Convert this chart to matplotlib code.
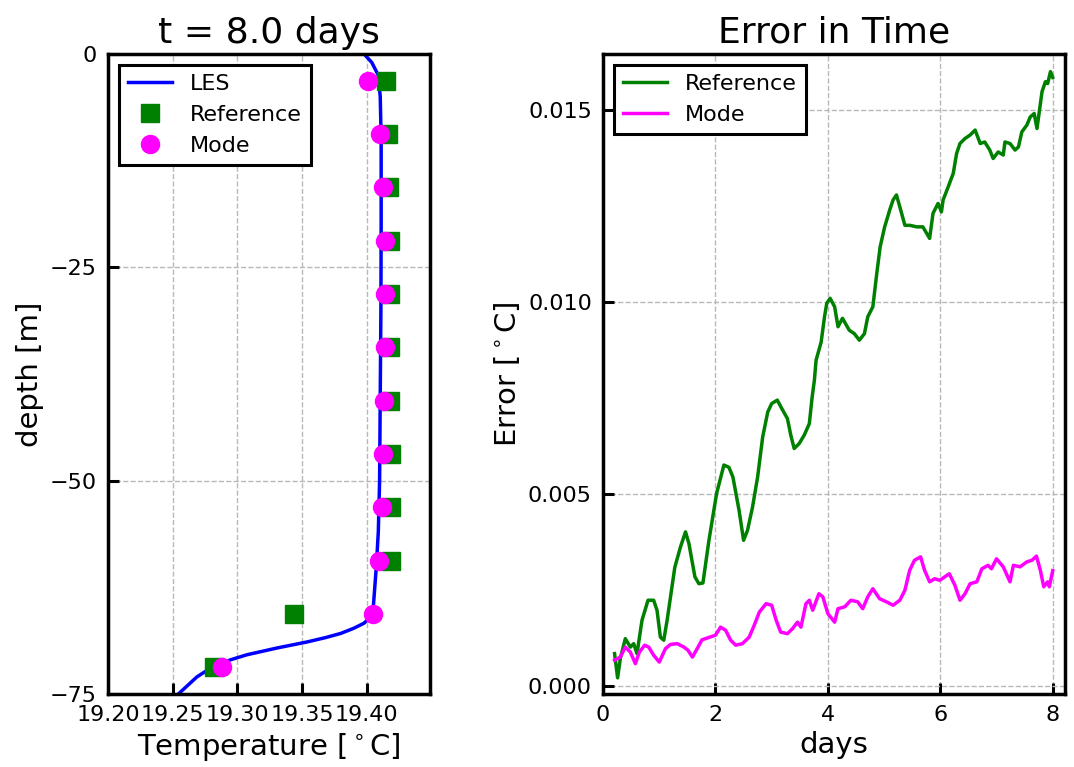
import numpy as np
import matplotlib
matplotlib.use('Agg')
import matplotlib.pyplot as plt

# profile at t = 8 days
les_temp = [19.398, 19.404, 19.409, 19.4105, 19.4112, 19.4112, 19.4110, 19.4105,
            19.4100, 19.4090, 19.4075, 19.4047, 19.398, 19.390, 19.380, 19.368,
            19.354, 19.331, 19.3075, 19.2946, 19.281, 19.2687, 19.2544]
les_depth = [0.0, -1.0, -2.5, -5.0, -10.0, -20.0, -30.0, -40.0,
             -50.0, -56.0, -60.0, -65.7, -66.7, -67.3, -67.9, -68.4,
             -68.9, -69.6, -70.4, -71.0, -71.8, -73.0, -75.0]

pt_depth = [-3.125, -9.375, -15.625, -21.875, -28.125, -34.375,
            -40.625, -46.875, -53.125, -59.375, -65.625, -71.875]
ref_temp = [19.4152, 19.4166, 19.4172, 19.4177, 19.4182, 19.4184,
            19.4184, 19.4187, 19.4187, 19.4190, 19.3438, 19.2816]
mode_temp = [19.4013, 19.4104, 19.4130, 19.4140, 19.4140, 19.4140,
             19.4133, 19.4125, 19.4117, 19.4099, 19.4047, 19.2878]

# error vs time
ref_days = [0.205, 0.259, 0.307, 0.396, 0.486, 0.545, 0.604, 0.693, 0.80, 0.90, 0.96, 1.02,
            1.08, 1.14, 1.277, 1.378, 1.467, 1.527, 1.634, 1.705, 1.777, 1.884, 2.02, 2.15,
            2.24, 2.31, 2.42, 2.50, 2.57, 2.66, 2.75, 2.84, 2.93, 3.00, 3.10, 3.18, 3.28,
            3.34, 3.40, 3.49, 3.58, 3.67, 3.72, 3.76, 3.79, 3.88, 3.94, 3.98, 4.04, 4.12,
            4.18, 4.26, 4.38, 4.47, 4.56, 4.65, 4.71, 4.80, 4.87, 4.93, 5.01, 5.10, 5.16,
            5.22, 5.28, 5.37, 5.46, 5.58, 5.69, 5.81, 5.87, 5.96, 6.02, 6.05, 6.14, 6.23,
            6.29, 6.35, 6.44, 6.53, 6.62, 6.71, 6.79, 6.88, 6.94, 7.03, 7.12, 7.15, 7.24,
            7.33, 7.39, 7.45, 7.54, 7.60, 7.67, 7.72, 7.81, 7.87, 7.91, 7.96, 8.00]
ref_err = [0.00085, 0.00022, 0.00072, 0.00124, 0.00102, 0.00111, 0.00085, 0.00172, 0.00224,
           0.00224, 0.00198, 0.00128, 0.00120, 0.00172, 0.00310, 0.00363, 0.00402, 0.00372,
           0.00285, 0.00267, 0.00269, 0.00380, 0.00502, 0.00576, 0.00570, 0.00545, 0.00458,
           0.00380, 0.00406, 0.00467, 0.00545, 0.00649, 0.00714, 0.00736, 0.00745, 0.00723,
           0.00697, 0.00654, 0.00619, 0.00632, 0.00654, 0.00684, 0.00753, 0.00797, 0.00849,
           0.00896, 0.00962, 0.00997, 0.01010, 0.00988, 0.00936, 0.00958, 0.00927, 0.00918,
           0.00901, 0.00918, 0.00962, 0.00988, 0.01075, 0.01144, 0.01196, 0.01240, 0.01266,
           0.01279, 0.01248, 0.01200, 0.01200, 0.01196, 0.01196, 0.01166, 0.01231, 0.01257,
           0.01235, 0.01266, 0.01300, 0.01335, 0.01387, 0.01413, 0.01426, 0.01435, 0.01448,
           0.01413, 0.01417, 0.01396, 0.01374, 0.01391, 0.01383, 0.01417, 0.01413, 0.01396,
           0.01404, 0.01443, 0.01461, 0.01482, 0.01491, 0.01452, 0.01548, 0.01574, 0.01569,
           0.01600, 0.01585]

mode_days = [0.205, 0.307, 0.396, 0.486, 0.575, 0.646, 0.741, 0.813, 0.90, 1.00, 1.11, 1.20,
             1.32, 1.44, 1.51, 1.59, 1.675, 1.76, 1.88, 2.00, 2.09, 2.18, 2.27, 2.36, 2.48,
             2.60, 2.69, 2.78, 2.90, 3.00, 3.08, 3.16, 3.28, 3.37, 3.46, 3.52, 3.61, 3.67,
             3.73, 3.84, 3.91, 4.00, 4.12, 4.18, 4.30, 4.41, 4.53, 4.62, 4.71, 4.80, 4.92,
             5.04, 5.16, 5.28, 5.37, 5.455, 5.54, 5.65, 5.72, 5.81, 5.90, 5.99, 6.08, 6.16,
             6.26, 6.35, 6.44, 6.53, 6.65, 6.74, 6.85, 6.91, 7.00, 7.12, 7.24, 7.30, 7.42,
             7.54, 7.63, 7.71, 7.78, 7.84, 7.91, 7.94, 8.00]
mode_err = [0.00068, 0.00076, 0.00102, 0.00089, 0.00059, 0.00089, 0.00107, 0.00102, 0.00081,
            0.00063, 0.00098, 0.00109, 0.00111, 0.00102, 0.00094, 0.00076, 0.00098, 0.00121,
            0.00127, 0.00133, 0.00154, 0.00146, 0.00120, 0.00107, 0.00111, 0.00128, 0.00159,
            0.00193, 0.00215, 0.00211, 0.00172, 0.00141, 0.00137, 0.00150, 0.00167, 0.00154,
            0.00215, 0.00224, 0.00198, 0.00241, 0.00233, 0.00189, 0.00167, 0.00202, 0.00207,
            0.00224, 0.00220, 0.00202, 0.00233, 0.00254, 0.00228, 0.00220, 0.00211, 0.00224,
            0.00250, 0.00302, 0.00328, 0.00337, 0.00302, 0.00272, 0.00280, 0.00276, 0.00285,
            0.00293, 0.00263, 0.00224, 0.00241, 0.00267, 0.00272, 0.00306, 0.00315, 0.00306,
            0.00332, 0.00311, 0.00272, 0.00315, 0.00311, 0.00324, 0.00328, 0.00339, 0.00302,
            0.00259, 0.00272, 0.00259, 0.00301]

fig = plt.figure(figsize=(10.74, 7.67), dpi=100)
ax1 = fig.add_axes([0.1006, 0.0952, 0.2998, 0.8344])
ax2 = fig.add_axes([0.5615, 0.0952, 0.4302, 0.8344])

ax1.plot(les_temp, les_depth, color='blue', lw=2.5, label='LES')
ax1.plot(ref_temp, pt_depth, 's', color='green', ms=13.5, mec='green', label='Reference')
ax1.plot(mode_temp, pt_depth, 'o', color='magenta', ms=13, mec='magenta', label='Mode')
ax1.set_xlim(19.2, 19.449)
ax1.set_ylim(-75, 0)
ax1.set_xticks([19.20, 19.25, 19.30, 19.35, 19.40])
ax1.set_yticks([0, -25, -50, -75])
ax1.set_title('t = 8.0 days', fontsize=26, pad=8)
ax1.set_xlabel(r'Temperature [$^\circ$C]', fontsize=21)
ax1.set_ylabel('depth [m]', fontsize=21)
ax1.legend(loc='upper left', fontsize=16, numpoints=1, fancybox=False,
           edgecolor='black', framealpha=1).get_frame().set_linewidth(2.2)

ax2.plot(ref_days, ref_err, color='green', lw=2.5, label='Reference')
ax2.plot(mode_days, mode_err, color='magenta', lw=2.5, label='Mode')
ax2.set_xlim(0, 8.22)
ax2.set_ylim(-0.0002, 0.01646)
ax2.set_xticks([0, 2, 4, 6, 8])
ax2.set_yticks([0.0, 0.005, 0.010, 0.015])
ax2.yaxis.set_major_formatter(matplotlib.ticker.FormatStrFormatter('%.3f'))
ax2.set_title('Error in Time', fontsize=26, pad=8)
ax2.set_xlabel('days', fontsize=21)
ax2.set_ylabel(r'Error [$^\circ$C]', fontsize=21)
ax2.legend(loc='upper left', fontsize=16, fancybox=False,
           edgecolor='black', framealpha=1).get_frame().set_linewidth(2.2)

for ax in (ax1, ax2):
    ax.grid(True, ls='--', color='0.72', lw=1)
    ax.tick_params(direction='in', length=8, width=2.2, labelsize=16, pad=8)
    for s in ax.spines.values():
        s.set_linewidth(2.5)

plt.savefig('out.png', dpi=100)
